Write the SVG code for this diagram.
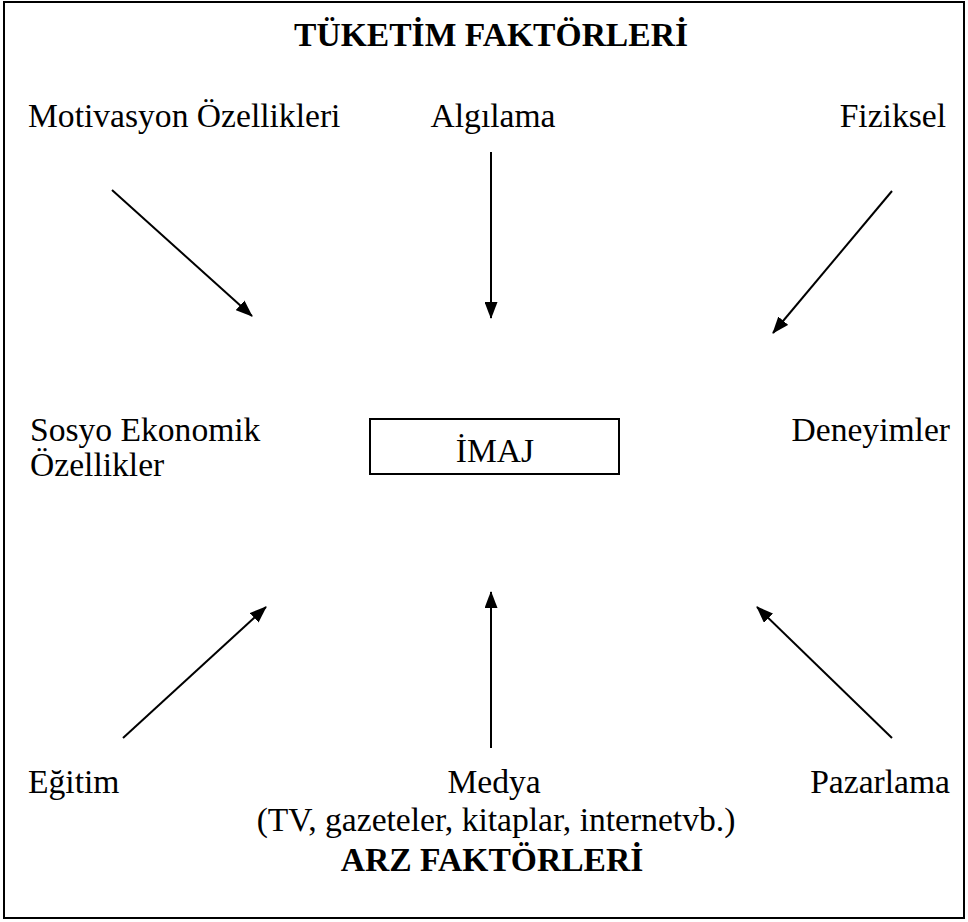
<svg xmlns="http://www.w3.org/2000/svg" width="968" height="922" viewBox="0 0 968 922">
<style>
.t{font-family:"Liberation Serif","Times New Roman",serif;font-size:33.6px;fill:#000}
.b{font-weight:bold}
.c{text-anchor:middle}
.e{text-anchor:end}
.ln{stroke:#000;stroke-width:2;fill:none}
</style>
<defs>
<marker id="ah" markerUnits="userSpaceOnUse" markerWidth="17" markerHeight="13" refX="16" refY="6.5" orient="auto">
<path d="M0,0 L17,6.5 L0,13 z" fill="#000"/>
</marker>
</defs>
<rect x="4" y="2" width="960" height="916" fill="#fff" stroke="#000" stroke-width="2"/>
<g id="title-top"><text class="t b c" x="491" y="46">TÜKETİM FAKTÖRLERİ</text></g>
<g id="motivasyon"><text class="t" x="28" y="127">Motivasyon Özellikleri</text></g>
<g id="algilama"><text class="t c" x="493" y="127">Algılama</text></g>
<g id="fiziksel"><text class="t e" x="946" y="127">Fiziksel</text></g>
<g id="sosyo"><text class="t" x="30" y="441">Sosyo Ekonomik</text><text class="t" x="30" y="476">Özellikler</text></g>
<g id="imaj"><rect x="370" y="419" width="249" height="55" fill="#fff" stroke="#000" stroke-width="2"/><text class="t c" x="495" y="462">İMAJ</text></g>
<g id="deneyimler"><text class="t e" x="950" y="441">Deneyimler</text></g>
<g id="egitim"><text class="t" x="28" y="793">Eğitim</text></g>
<g id="medya"><text class="t c" x="494" y="793">Medya</text><text class="t c" x="496" y="831">(TV, gazeteler, kitaplar, internetvb.)</text></g>
<g id="pazarlama"><text class="t e" x="950" y="793">Pazarlama</text></g>
<g id="title-bottom"><text class="t b c" x="492" y="871">ARZ FAKTÖRLERİ</text></g>
<g id="connectors">
<line class="ln" x1="112" y1="190" x2="252" y2="316" marker-end="url(#ah)"/>
<line class="ln" x1="491" y1="152" x2="491" y2="318" marker-end="url(#ah)"/>
<line class="ln" x1="892" y1="191" x2="773" y2="333" marker-end="url(#ah)"/>
<line class="ln" x1="123" y1="738" x2="266" y2="607" marker-end="url(#ah)"/>
<line class="ln" x1="491" y1="748" x2="491" y2="592" marker-end="url(#ah)"/>
<line class="ln" x1="892" y1="738" x2="757" y2="607" marker-end="url(#ah)"/>
</g>
</svg>
